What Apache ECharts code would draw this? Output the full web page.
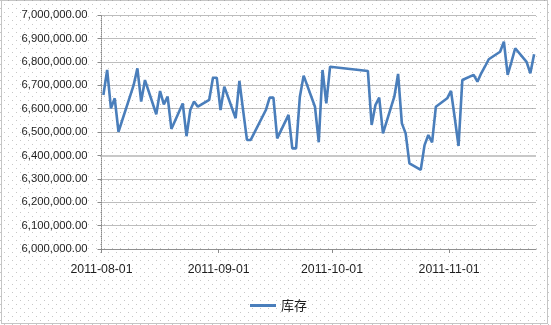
<!DOCTYPE html>
<html><head><meta charset="utf-8">
<script src="https://cdn.jsdelivr.net/npm/echarts@6/dist/echarts.min.js"></script>
<style>html,body{margin:0;padding:0;background:#fff}#c{width:551px;height:325px}</style>
</head><body><div id="c"></div>
<script>
const seriesName = '库存';
const dates = [
 '2011-08-01','2011-08-02','2011-08-03','2011-08-04','2011-08-05',
 '2011-08-08','2011-08-09','2011-08-10','2011-08-11','2011-08-12',
 '2011-08-15','2011-08-16','2011-08-17','2011-08-18','2011-08-19',
 '2011-08-22','2011-08-23','2011-08-24','2011-08-25','2011-08-26',
 '2011-08-29','2011-08-30','2011-08-31','2011-09-01','2011-09-02',
 '2011-09-05','2011-09-06','2011-09-07','2011-09-08','2011-09-09',
 '2011-09-13','2011-09-14','2011-09-15','2011-09-16',
 '2011-09-19','2011-09-20','2011-09-21','2011-09-22','2011-09-23',
 '2011-09-26','2011-09-27','2011-09-28','2011-09-29','2011-09-30',
 '2011-10-10','2011-10-11','2011-10-12','2011-10-13','2011-10-14',
 '2011-10-17','2011-10-18','2011-10-19','2011-10-20','2011-10-21',
 '2011-10-24','2011-10-25','2011-10-26','2011-10-27','2011-10-28',
 '2011-10-31','2011-11-01','2011-11-02','2011-11-03','2011-11-04',
 '2011-11-07','2011-11-08','2011-11-09','2011-11-10','2011-11-11',
 '2011-11-14','2011-11-15','2011-11-16','2011-11-17','2011-11-18',
 '2011-11-21','2011-11-22','2011-11-23'
];
const stock = [
 6658000,6765000,6601000,6644000,6501000,
 6650000,6700000,6772000,6630000,6722000,
 6576000,6675000,6618000,6651000,6513000,
 6622000,6482000,6594000,6630000,6608000,
 6637000,6732000,6732000,6594000,6694000,
 6559000,6718000,6590000,6466000,6466000,
 6594000,6647000,6647000,6473000,
 6573000,6430000,6430000,6651000,6741000,
 6608000,6456000,6765000,6622000,6779000,
 6761000,6530000,6615000,6647000,6494000,
 6651000,6748000,6537000,6494000,6366000,
 6338000,6444000,6487000,6456000,6608000,
 6644000,6676000,6560000,6440000,6722000,
 6744000,6715000,6751000,6780000,6811000,
 6843000,6886000,6744000,6800000,6858000,
 6800000,6751000,6832000
];
const xTickLabels = ['2011-08-01','2011-09-01','2011-10-01','2011-11-01'];
const xStart = '2011-08-01';
const xEnd = '2011-11-24';
const yMin = 6000000, yMax = 7000000, yStep = 100000;
const highlightLevel = 6400000;

function toTime(s, hour) {
  const p = s.split('-').map(Number);
  return new Date(p[0], p[1] - 1, p[2], hour || 0).getTime();
}
function fmtDate(v) {
  const d = new Date(v);
  const pad = n => (n < 10 ? '0' : '') + n;
  return d.getFullYear() + '-' + pad(d.getMonth() + 1) + '-' + pad(d.getDate());
}

// Excel-like dotted pattern background
const pc = document.createElement('canvas');
pc.width = 8; pc.height = 8;
const g = pc.getContext('2d');
g.fillStyle = '#c6c6c6';
g.fillRect(0, 0, 1, 1);
g.fillRect(4, 4, 1, 1);

const chart = echarts.init(document.getElementById('c'), null, {renderer: 'canvas'});
const txt = '#1e1e1e';
const tickTimes = xTickLabels.map(s => toTime(s));
chart.setOption({
  backgroundColor: '#ffffff',
  animation: false,
  graphic: [
    {type: 'rect', z: -10, silent: true, shape: {x: 0, y: 0, width: 549, height: 325},
     style: {fill: {image: pc, repeat: 'repeat'}}},
    {type: 'rect', z: -9, silent: true, shape: {x: 1.5, y: 0.5, width: 546, height: 323},
     style: {fill: 'none', stroke: '#8a8a8a', lineWidth: 1, lineDash: [1, 1]}}
  ],
  grid: {left: 101.5, right: 15, top: 15, bottom: 76, containLabel: false},
  legend: {
    left: 245, top: 294, icon: 'rect', itemWidth: 26, itemHeight: 3,
    textStyle: {fontFamily: 'Noto Sans CJK SC', fontSize: 13, color: txt},
    data: [seriesName]
  },
  xAxis: {
    type: 'value',
    min: toTime(xStart), max: toTime(xEnd),
    axisLine: {show: true, onZero: false, lineStyle: {color: '#8a8a8a', type: [1, 1], width: 1}},
    axisTick: {show: true, length: 4, lineStyle: {color: '#8a8a8a'}, customValues: tickTimes},
    axisLabel: {
      customValues: tickTimes,
      formatter: v => fmtDate(v),
      showMinLabel: true, showMaxLabel: true, hideOverlap: false,
      margin: 15, color: txt, fontFamily: 'Liberation Sans', fontSize: 12.3
    },
    splitLine: {show: false}
  },
  yAxis: {
    type: 'value', min: yMin, max: yMax, interval: yStep,
    axisLine: {show: true, lineStyle: {color: '#8a8a8a', type: [1, 1]}},
    axisTick: {show: true, length: 4, lineStyle: {color: '#8a8a8a'}},
    axisLabel: {
      formatter: v => v.toLocaleString('en-US', {minimumFractionDigits: 2, maximumFractionDigits: 2}),
      margin: 14, color: txt, fontFamily: 'Liberation Sans', fontSize: 11.3
    },
    splitLine: {show: true, lineStyle: {color: '#7a7a7a', type: [1, 1], width: 1}}
  },
  series: [{
    name: seriesName, type: 'line', showSymbol: false, symbol: 'none',
    data: dates.map((d, i) => [toTime(d, 12), stock[i]]),
    lineStyle: {color: '#4a7ebb', width: 2.6},
    itemStyle: {color: '#4a7ebb'},
    z: 3,
    markLine: {
      silent: true, symbol: 'none', z: 1, animation: false,
      label: {show: false},
      lineStyle: {color: '#c8c8c8', width: 2, type: 'solid'},
      emphasis: {disabled: true},
      data: [{yAxis: highlightLevel}]
    }
  }]
});
</script>
</body></html>
